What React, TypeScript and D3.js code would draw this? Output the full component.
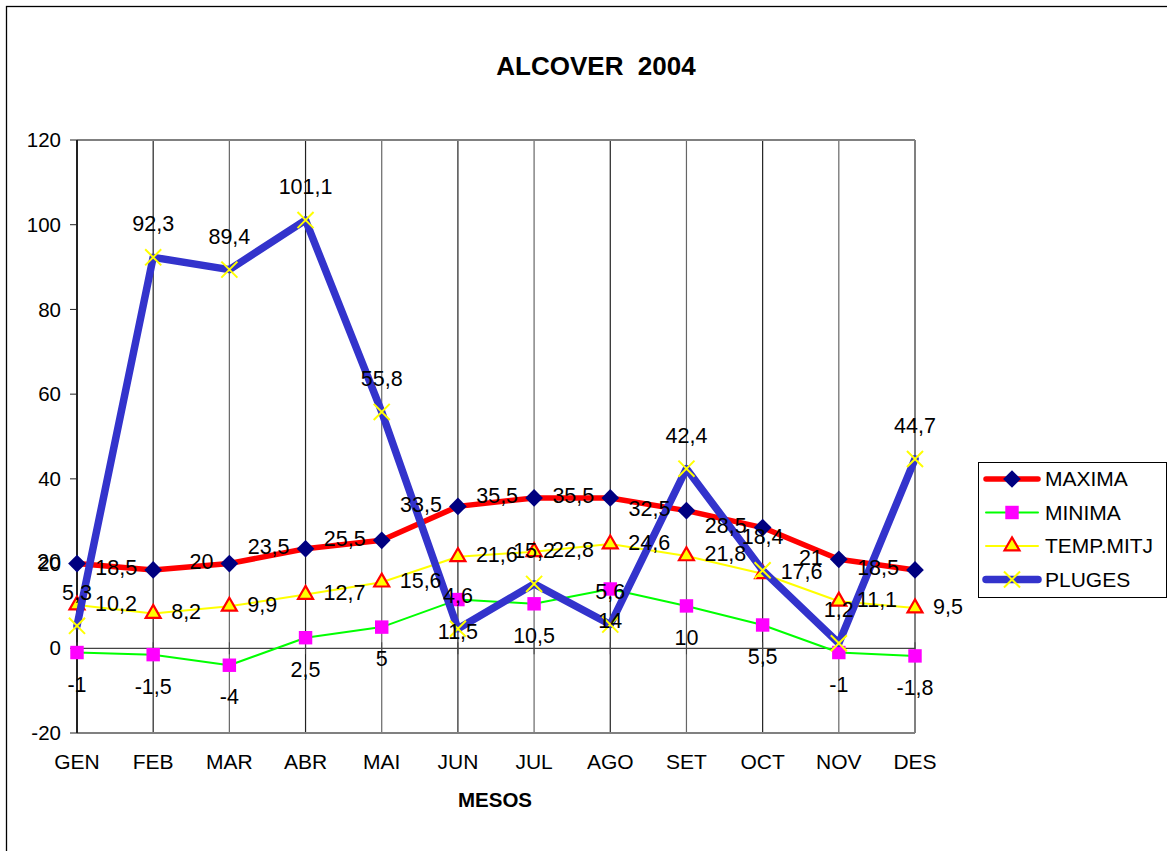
import { useEffect, useRef } from 'react'
import * as d3 from 'd3'

const months = ['GEN', 'FEB', 'MAR', 'ABR', 'MAI', 'JUN', 'JUL', 'AGO', 'SET', 'OCT', 'NOV', 'DES']
const maxima = [20, 18.5, 20, 23.5, 25.5, 33.5, 35.5, 35.5, 32.5, 28.5, 21, 18.5]
const minima = [-1, -1.5, -4, 2.5, 5, 11.5, 10.5, 14, 10, 5.5, -1, -1.8]
const tempMitj = [10.2, 8.2, 9.9, 12.7, 15.6, 21.6, 22.8, 24.6, 21.8, 17.6, 11.1, 9.5]
const pluges = [5.3, 92.3, 89.4, 101.1, 55.8, 4.6, 15.2, 5.6, 42.4, 18.4, 1.2, 44.7]
const yTicks = [-20, 0, 20, 40, 60, 80, 100, 120]

const W = 1167
const H = 851
const FONT = 'Liberation Sans, Arial, sans-serif'

const fmt = (v: number) => String(v).replace('.', ',')

export default function App() {
  const svgRef = useRef<SVGSVGElement>(null)

  useEffect(() => {
    const el = svgRef.current
    if (!el) return
    const svg = d3.select(el)
    svg.selectAll('*').remove()

    const x = d3.scalePoint<string>().domain(months).range([77, 915])
    const y = d3.scaleLinear().domain([-20, 120]).range([733, 140])

    // outer frame
    svg.append('rect')
      .attr('x', 6.5).attr('y', 6.5)
      .attr('width', W + 10).attr('height', H + 10)
      .attr('fill', 'white').attr('stroke', '#000').attr('stroke-width', 1.3)

    // title
    svg.append('text')
      .attr('x', 596).attr('y', 75)
      .attr('text-anchor', 'middle')
      .attr('font-family', FONT).attr('font-size', 26).attr('font-weight', 'bold')
      .style('white-space', 'pre')
      .text('ALCOVER  2004')

    const g = svg.append('g')

    // vertical gridlines at categories
    months.forEach((m, i) => {
      g.append('line')
        .attr('x1', x(m)!).attr('x2', x(m)!)
        .attr('y1', y(120)).attr('y2', y(-20))
        .attr('stroke', i % 2 ? '#222' : '#666').attr('stroke-width', 1.2)
    })

    // plot border (top, bottom, right)
    g.append('line').attr('x1', x('GEN')!).attr('x2', x('DES')!).attr('y1', y(120)).attr('y2', y(120))
      .attr('stroke', '#808080').attr('stroke-width', 2)
    g.append('line').attr('x1', x('GEN')!).attr('x2', x('DES')!).attr('y1', y(-20)).attr('y2', y(-20))
      .attr('stroke', '#808080').attr('stroke-width', 2)
    g.append('line').attr('x1', x('DES')!).attr('x2', x('DES')!).attr('y1', y(120)).attr('y2', y(-20))
      .attr('stroke', '#808080').attr('stroke-width', 2)

    // y axis
    g.append('line').attr('x1', x('GEN')!).attr('x2', x('GEN')!).attr('y1', y(120)).attr('y2', y(-20))
      .attr('stroke', '#222').attr('stroke-width', 2)
    yTicks.forEach(t => {
      g.append('line').attr('x1', 70).attr('x2', 77).attr('y1', y(t)).attr('y2', y(t))
        .attr('stroke', '#222').attr('stroke-width', 1)
      g.append('text')
        .attr('x', 61).attr('y', y(t)).attr('dy', '0.35em')
        .attr('text-anchor', 'end')
        .attr('font-family', FONT).attr('font-size', 20.5)
        .text(t)
    })

    // x axis at 0
    g.append('line').attr('x1', x('GEN')!).attr('x2', x('DES')!).attr('y1', y(0)).attr('y2', y(0))
      .attr('stroke', '#444').attr('stroke-width', 1.2)
    months.forEach(m => {
      g.append('line').attr('x1', x(m)!).attr('x2', x(m)!).attr('y1', y(0) - 6).attr('y2', y(0) + 6)
        .attr('stroke', '#444').attr('stroke-width', 1)
      g.append('text')
        .attr('x', x(m)!).attr('y', 769)
        .attr('text-anchor', 'middle')
        .attr('font-family', FONT).attr('font-size', 21)
        .text(m)
    })

    svg.append('text')
      .attr('x', 495).attr('y', 807)
      .attr('text-anchor', 'middle')
      .attr('font-family', FONT).attr('font-size', 20.5).attr('font-weight', 'bold')
      .text('MESOS')

    const line = d3.line<number>().x((_, i) => x(months[i])!).y(d => y(d))

    const diamond = d3.symbol().type(d3.symbolDiamond2).size(200)
    const square = d3.symbol().type(d3.symbolSquare2).size(230)
    const triangle = d3.symbol().type(d3.symbolTriangle2).size(160)
    const cross = d3.symbol().type(d3.symbolX).size(170)

    const series = [
      { name: 'MAXIMA', data: maxima, color: '#FF0000', width: 5.5, sym: diamond, fill: '#000080', stroke: 'none', sw: 0, pos: 'left' },
      { name: 'MINIMA', data: minima, color: '#00FF00', width: 2, sym: square, fill: '#FF00FF', stroke: 'none', sw: 0, pos: 'below' },
      { name: 'TEMP.MITJ', data: tempMitj, color: '#FFFF00', width: 2, sym: triangle, fill: '#FFFF00', stroke: '#FF0000', sw: 2.2, pos: 'right' },
      { name: 'PLUGES', data: pluges, color: '#3333CC', width: 7.5, sym: cross, fill: 'none', stroke: '#FFFF00', sw: 2, pos: 'above' },
    ]

    const drawMarker = (sel: any, s: any, cx: number, cy: number) => {
      sel.append('path')
        .attr('d', s.sym())
        .attr('transform', `translate(${cx},${cy})`)
        .attr('fill', s.fill)
        .attr('stroke', s.stroke)
        .attr('stroke-width', s.sw)
    }

    series.forEach(s => {
      g.append('path')
        .attr('d', line(s.data))
        .attr('fill', 'none')
        .attr('stroke', s.color)
        .attr('stroke-width', s.width)
        .attr('stroke-linejoin', 'round')
        .attr('stroke-linecap', 'round')
      s.data.forEach((v, i) => drawMarker(g, s, x(months[i])!, y(v)))
    })

    // data labels
    const labels = svg.append('g').attr('font-family', FONT).attr('font-size', 21.5)
    series.forEach(s => {
      s.data.forEach((v, i) => {
        const cx = x(months[i])!
        const cy = y(v)
        const t = labels.append('text').text(fmt(v))
        if (s.pos === 'left') t.attr('x', cx - 16).attr('y', cy - 2).attr('dy', '0.35em').attr('text-anchor', 'end')
        if (s.pos === 'right') t.attr('x', cx + 18).attr('y', cy - 2).attr('dy', '0.35em').attr('text-anchor', 'start')
        if (s.pos === 'above') t.attr('x', cx).attr('y', cy - 26).attr('text-anchor', 'middle')
        if (s.pos === 'below') t.attr('x', cx).attr('y', cy + 39).attr('text-anchor', 'middle')
      })
    })

    // legend
    const lg = svg.append('g')
    lg.append('rect').attr('x', 978.5).attr('y', 462.5).attr('width', 188).attr('height', 135)
      .attr('fill', 'white').attr('stroke', '#000').attr('stroke-width', 1)
    series.forEach((s, i) => {
      const ly = 479 + i * 33.5
      lg.append('line').attr('x1', 986).attr('x2', 1038).attr('y1', ly).attr('y2', ly)
        .attr('stroke', s.color).attr('stroke-width', s.width).attr('stroke-linecap', 'round')
      drawMarker(lg, s, 1012, ly)
      lg.append('text')
        .attr('x', 1045).attr('y', ly).attr('dy', '0.35em')
        .attr('font-family', FONT).attr('font-size', 21)
        .text(s.name)
    })
  }, [])

  return (
    <svg
      ref={svgRef}
      width={W}
      height={H}
      style={{ position: 'absolute', left: 0, top: 0, display: 'block', background: 'white' }}
    />
  )
}
